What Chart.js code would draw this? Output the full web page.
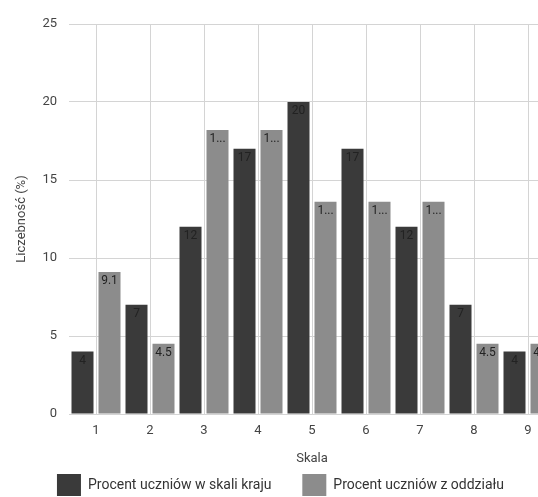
<!DOCTYPE html>
<html>
<head>
<meta charset="utf-8">
<script src="https://cdn.jsdelivr.net/npm/chart.js@4.4.1/dist/chart.umd.min.js"></script>
<style>
  html, body { margin: 0; padding: 0; background: #fff; overflow: hidden; }
  #wrap { width: 563px; height: 506px; }
</style>
</head>
<body>
<div id="wrap"><canvas id="myChart" width="563" height="506"></canvas></div>
<script>
const skala = ["1", "2", "3", "4", "5", "6", "7", "8", "9"];
const krajValues = [4, 7, 12, 17, 20, 17, 12, 7, 4];
const oddzialValues = [9.1, 4.5, 18.2, 18.2, 13.6, 13.6, 13.6, 4.5, 4.5];
const yTicks = [0, 5, 10, 15, 20, 25];

const fontName = "Roboto, 'Liberation Sans', Arial, sans-serif";

// etykiety wartosci w gornej czesci slupka (jak w Google Charts, z obcinaniem)
const barLabels = {
    id: "barLabels",
    afterDatasetsDraw(chart){
        const ctx = chart.ctx;
        ctx.save();
        ctx.font = "12px " + fontName;
        ctx.fillStyle = "#222";
        ctx.textAlign = "center";
        ctx.textBaseline = "top";
        chart.data.datasets.forEach((ds, i) => {
            const meta = chart.getDatasetMeta(i);
            meta.data.forEach((bar, j) => {
                let txt = String(ds.data[j]);
                const maxW = bar.width - 1;
                if(ctx.measureText(txt).width > maxW){
                    let n = txt.length - 1;
                    while(n > 0 && ctx.measureText(txt.slice(0, n) + "...").width > maxW) n--;
                    txt = txt.slice(0, Math.max(n, 1)) + "...";
                }
                ctx.fillText(txt, bar.x, bar.y + 3);
            });
        });
        ctx.restore();
    }
};

Chart.defaults.font.family = fontName;
Chart.defaults.color = "#444";

const myChart = new Chart("myChart", {
    type: "bar",
    data: {
        labels: skala,
        datasets: [
            {label: "Procent uczniów w skali kraju", data: krajValues, backgroundColor: "#3a3a3a"},
            {label: "Procent uczniów z oddziału", data: oddzialValues, backgroundColor: "#8c8c8c"}
        ]
    },
    options: {
        responsive: false,
        animation: false,
        layout: {padding: {left: 6, right: 8, top: 24, bottom: 0}},
        datasets: {bar: {categoryPercentage: 1.0, barPercentage: 0.815}},
        scales: {
            x: {
                afterFit(scale){ scale.height = 50; },
                grid: {offset: false, color: "#d4d4d4", drawTicks: false},
                border: {display: false},
                ticks: {padding: 9, font: {size: 13}, color: "#444"},
                title: {display: true, text: "Skala", font: {size: 13}, color: "#444", padding: {top: 0, bottom: -3}}
            },
            y: {
                min: 0,
                max: 25,
                afterBuildTicks(scale){ scale.ticks = yTicks.map(v => ({value: v})); },
                afterFit(scale){ scale.width = 63; },
                grid: {color: "#d4d4d4", drawTicks: false},
                border: {display: false},
                ticks: {padding: 12, font: {size: 13}, color: "#444"},
                title: {display: true, text: "Liczebność (%)", font: {size: 13}, color: "#444", padding: {top: 8, bottom: 0}}
            }
        },
        plugins: {
            legend: {
                position: "bottom",
                labels: {
                    boxWidth: 24, boxHeight: 22, padding: 10, font: {size: 14}, color: "#333",
                    // odstep miedzy pozycjami legendy
                    generateLabels(chart){
                        const items = Chart.defaults.plugins.legend.labels.generateLabels(chart);
                        items.forEach((it, i) => { if(i < items.length - 1) it.text += "      "; });
                        return items;
                    }
                }
            },
            tooltip: {enabled: false}
        }
    },
    plugins: [barLabels]
});
</script>
</body>
</html>
